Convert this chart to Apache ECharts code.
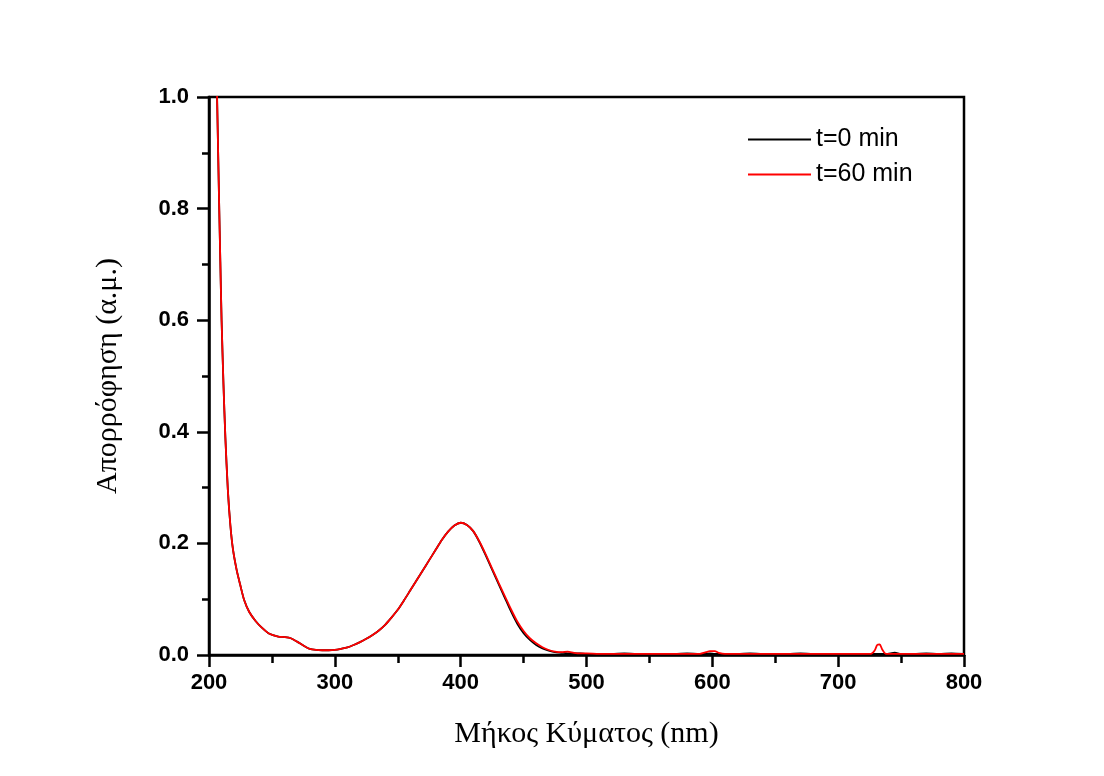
<!DOCTYPE html>
<html>
<head>
<meta charset="utf-8">
<script src="https://cdn.jsdelivr.net/npm/echarts@6/dist/echarts.min.js"></script>
<style>
  html, body { margin: 0; padding: 0; background: #fff; }
  #chart { width: 1104px; height: 776px; }
</style>
</head>
<body>
<div id="chart"></div>
<script>
// UV-Vis absorption spectra, wavelength in nm
const wavelengthNm = [
  205, 206.5, 208, 209, 210, 211.5, 213, 215, 217, 219, 222, 225, 228, 232, 237, 242, 248,
  255, 260, 265, 270, 275,
  280, 285, 290, 295, 300, 305, 310, 315, 320, 325, 330, 335, 340, 345, 350, 355, 360, 365,
  370, 375, 380, 385, 390, 395, 400, 405, 410, 415, 420, 425, 430, 435, 440, 445, 450, 455,
  460, 465, 470, 475, 480, 485, 490, 495, 500,
  510, 520, 530, 540, 550, 560, 570, 580, 590, 595, 598, 602, 605, 610, 620, 630,
  640, 650, 660, 670, 680, 690, 700, 710, 720, 726, 729, 731, 733, 735, 738, 745, 750, 760,
  770, 780, 790, 800
];

// absorbance at t = 0 min
const absT0 = [
  1.17, 0.99, 0.815, 0.705, 0.60, 0.485, 0.39, 0.295, 0.232, 0.190, 0.152, 0.124, 0.098, 0.077, 0.061, 0.049, 0.038,
  0.033, 0.032, 0.030, 0.024, 0.017,
  0.011, 0.009, 0.0085, 0.0085, 0.009, 0.011, 0.0135, 0.018, 0.023, 0.029, 0.036, 0.044, 0.054, 0.067, 0.081, 0.098, 0.116, 0.134,
  0.152, 0.170, 0.188, 0.206, 0.221, 0.232, 0.237, 0.233, 0.222, 0.202, 0.178, 0.153, 0.128, 0.103, 0.078, 0.056, 0.039, 0.027,
  0.018, 0.012, 0.008, 0.005, 0.004, 0.003, 0.003, 0.003, 0.002,
  0.002, 0.002, 0.003, 0.002, 0.002, 0.002, 0.002, 0.003, 0.002, 0.002, 0.003, 0.002, 0.002, 0.002, 0.002, 0.003,
  0.002, 0.002, 0.002, 0.003, 0.002, 0.002, 0.002, 0.002, 0.002, 0.002, 0.002, 0.002, 0.002, 0.002, 0.002, 0.004, 0.002, 0.002,
  0.003, 0.002, 0.003, 0.002
];

// absorbance at t = 60 min
const absT60 = [
  1.17, 0.99, 0.815, 0.705, 0.60, 0.485, 0.39, 0.295, 0.232, 0.190, 0.152, 0.124, 0.098, 0.077, 0.061, 0.049, 0.038,
  0.033, 0.032, 0.030, 0.024, 0.017,
  0.011, 0.009, 0.0085, 0.0085, 0.009, 0.011, 0.0135, 0.018, 0.023, 0.029, 0.036, 0.044, 0.054, 0.067, 0.081, 0.098, 0.116, 0.134,
  0.152, 0.170, 0.188, 0.206, 0.221, 0.232, 0.237, 0.233, 0.222, 0.203, 0.180, 0.155, 0.130, 0.106, 0.082, 0.060, 0.043, 0.030,
  0.021, 0.014, 0.009, 0.006, 0.005, 0.006, 0.004, 0.003, 0.003,
  0.002, 0.002, 0.002, 0.002, 0.002, 0.002, 0.002, 0.002, 0.002, 0.005, 0.007, 0.007, 0.004, 0.002, 0.002, 0.002,
  0.002, 0.002, 0.002, 0.002, 0.002, 0.002, 0.002, 0.002, 0.002, 0.002, 0.008, 0.018, 0.019, 0.010, 0.002, 0.002, 0.002, 0.002,
  0.002, 0.002, 0.002, 0.002
];

const seriesNames = ['t=0 min', 't=60 min'];
const seriesColors = ['#000000', '#ff0000'];

const toPairs = vals => wavelengthNm.map((w, i) => [w, vals[i]]);

const chart = echarts.init(document.getElementById('chart'));

const tickFont = { fontFamily: 'Liberation Sans, Arial, sans-serif', fontWeight: 'bold', fontSize: 22, color: '#000' };
const titleFont = { fontFamily: 'Liberation Serif, Times New Roman, serif', fontSize: 30, color: '#000' };

chart.setOption({
  backgroundColor: '#ffffff',
  animation: false,
  grid: {
    left: 209, right: 140, top: 97, bottom: 121,
    show: true, borderColor: '#000', borderWidth: 2.5, backgroundColor: 'transparent'
  },
  legend: {
    orient: 'vertical',
    left: 743, top: 122,
    icon: 'rect',
    itemWidth: 63, itemHeight: 2, itemGap: 10,
    textStyle: { fontFamily: 'Liberation Sans, Arial, sans-serif', fontSize: 25, color: '#000' },
    data: seriesNames
  },
  xAxis: {
    type: 'value',
    min: 200, max: 800, interval: 100,
    name: 'Μήκος Κύματος (nm)',
    nameLocation: 'middle',
    nameGap: 64,
    nameTextStyle: titleFont,
    axisLine: { show: true, onZero: false, lineStyle: { color: '#000', width: 2.5 } },
    axisTick: { show: true, inside: false, length: 12, lineStyle: { color: '#000', width: 2.5 } },
    minorTick: { show: true, splitNumber: 2, length: 8, lineStyle: { color: '#000', width: 2.5 } },
    axisLabel: Object.assign({ margin: 17 }, tickFont),
    splitLine: { show: false }
  },
  yAxis: {
    type: 'value',
    min: 0, max: 1.0, interval: 0.2,
    name: 'Απορρόφηση (α.μ.)',
    nameLocation: 'middle',
    nameGap: 86,
    nameTextStyle: titleFont,
    axisLine: { show: true, onZero: false, lineStyle: { color: '#000', width: 2.5 } },
    axisTick: { show: true, inside: false, length: 12, lineStyle: { color: '#000', width: 2.5 } },
    minorTick: { show: true, splitNumber: 2, length: 7, lineStyle: { color: '#000', width: 2.5 } },
    axisLabel: Object.assign({ margin: 20, formatter: v => v.toFixed(1) }, tickFont),
    splitLine: { show: false }
  },
  series: seriesNames.map((name, k) => ({
    name: name,
    type: 'line',
    data: toPairs(k === 0 ? absT0 : absT60),
    symbol: 'none',
    smooth: 0.25,
    clip: true,
    lineStyle: { color: seriesColors[k], width: 1.8 },
    itemStyle: { color: seriesColors[k] },
    z: 2 + k
  }))
});
</script>
</body>
</html>
